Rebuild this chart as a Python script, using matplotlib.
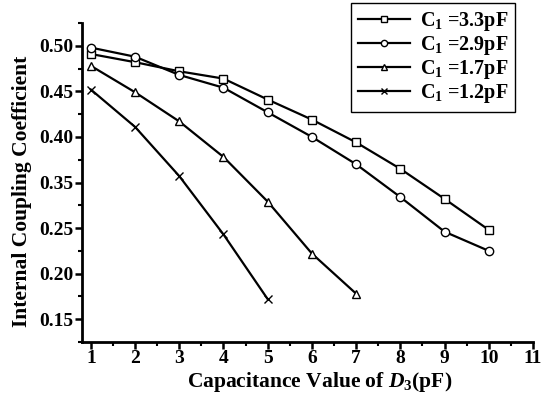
import numpy as np
import matplotlib
matplotlib.use('Agg')
import matplotlib.pyplot as plt
from matplotlib.ticker import FixedLocator, FixedFormatter

# capacitance of D3 (pF)
d3 = [1, 2, 3, 4, 5, 6, 7, 8, 9, 10]

# internal coupling coefficient for each C1
k_33 = [0.491, 0.482, 0.472, 0.464, 0.441, 0.419, 0.394, 0.365, 0.314, 0.248]
k_29 = [0.498, 0.488, 0.468, 0.454, 0.427, 0.400, 0.370, 0.318, 0.246, 0.225]
k_17 = [0.478, 0.449, 0.417, 0.378, 0.308, 0.222, 0.178]
k_12 = [0.452, 0.411, 0.357, 0.243, 0.172]

labels = [r'C$_{1}$ =3.3pF', r'C$_{1}$ =2.9pF', r'C$_{1}$ =1.7pF', r'C$_{1}$ =1.2pF']

# y tick values (evenly spaced on the axis)
y_ticks = np.array([0.15, 0.20, 0.25, 0.35, 0.40, 0.45, 0.50])
idx = np.arange(len(y_ticks), dtype=float)


def forward(v):
    v = np.asarray(v, dtype=float)
    p = np.interp(v, y_ticks, idx)
    p = np.where(v < y_ticks[0], (v - y_ticks[0]) / 0.05, p)
    p = np.where(v > y_ticks[-1], idx[-1] + (v - y_ticks[-1]) / 0.05, p)
    return p


def inverse(p):
    p = np.asarray(p, dtype=float)
    v = np.interp(p, idx, y_ticks)
    v = np.where(p < 0, y_ticks[0] + p * 0.05, v)
    v = np.where(p > idx[-1], y_ticks[-1] + (p - idx[-1]) * 0.05, v)
    return v


plt.rcParams['font.family'] = 'Liberation Serif'
plt.rcParams['font.weight'] = 'bold'
plt.rcParams['axes.labelweight'] = 'bold'
plt.rcParams['mathtext.fontset'] = 'custom'
plt.rcParams['mathtext.rm'] = 'Liberation Serif:bold'
plt.rcParams['mathtext.bf'] = 'Liberation Serif:bold'
plt.rcParams['mathtext.it'] = 'Liberation Serif:bold:italic'
plt.rcParams['mathtext.default'] = 'bf'

fig = plt.figure(figsize=(5.53, 3.93), dpi=100)
ax = fig.add_axes([82 / 553, 1 - 342 / 393, 451 / 553, 319 / 393])

style = dict(color='black', lw=1.6, markersize=6, markerfacecolor='white',
             markeredgecolor='black', markeredgewidth=1.0)
ax.plot(d3, k_33, marker='s', label=labels[0], **style)
ax.plot(d3, k_29, marker='o', label=labels[1], **style)
ax.plot(d3[:len(k_17)], k_17, marker='^', label=labels[2], **style)
ax.plot(d3[:len(k_12)], k_12, marker='x', label=labels[3], **style)

ax.set_yscale('function', functions=(forward, inverse))
ax.set_ylim(inverse(-0.5), inverse(6.5))
ax.yaxis.set_major_locator(FixedLocator(y_ticks))
ax.yaxis.set_major_formatter(FixedFormatter(['%.2f' % v for v in y_ticks]))
ax.yaxis.set_minor_locator(FixedLocator(inverse(np.arange(-0.5, 7, 1.0))))

ax.set_xlim(0.8, 11)
ax.set_xticks(np.arange(1, 12))
ax.set_xticks(np.arange(1.5, 11, 1.0), minor=True)

for s in ['top', 'right']:
    ax.spines[s].set_visible(False)
for s in ['left', 'bottom']:
    ax.spines[s].set_linewidth(2)

ax.tick_params(which='major', direction='out', length=5, width=1.8, labelsize=14, pad=1)
ax.tick_params(which='minor', direction='out', length=3, width=1.5)

ax.set_xlabel(r'Capacitance Value of $\mathit{D}_{3}$(pF)', fontsize=15.5)
ax.xaxis.set_label_coords(0.527, -0.089, transform=ax.transAxes)
ax.set_ylabel('Internal Coupling Coefficient', fontsize=15.5)
ax.yaxis.set_label_coords(-0.111, 0.473)

leg = ax.legend(loc='upper right', bbox_to_anchor=(515 / 553, 1 - 3 / 393),
                bbox_transform=fig.transFigure, borderaxespad=0, fancybox=False,
                edgecolor='black', fontsize=14.5, handlelength=2.6, labelspacing=0.05,
                borderpad=0.35, handletextpad=0.45, framealpha=1, markerscale=0.75)
leg.get_frame().set_linewidth(1.0)

fig.savefig('out.png', dpi=100)
